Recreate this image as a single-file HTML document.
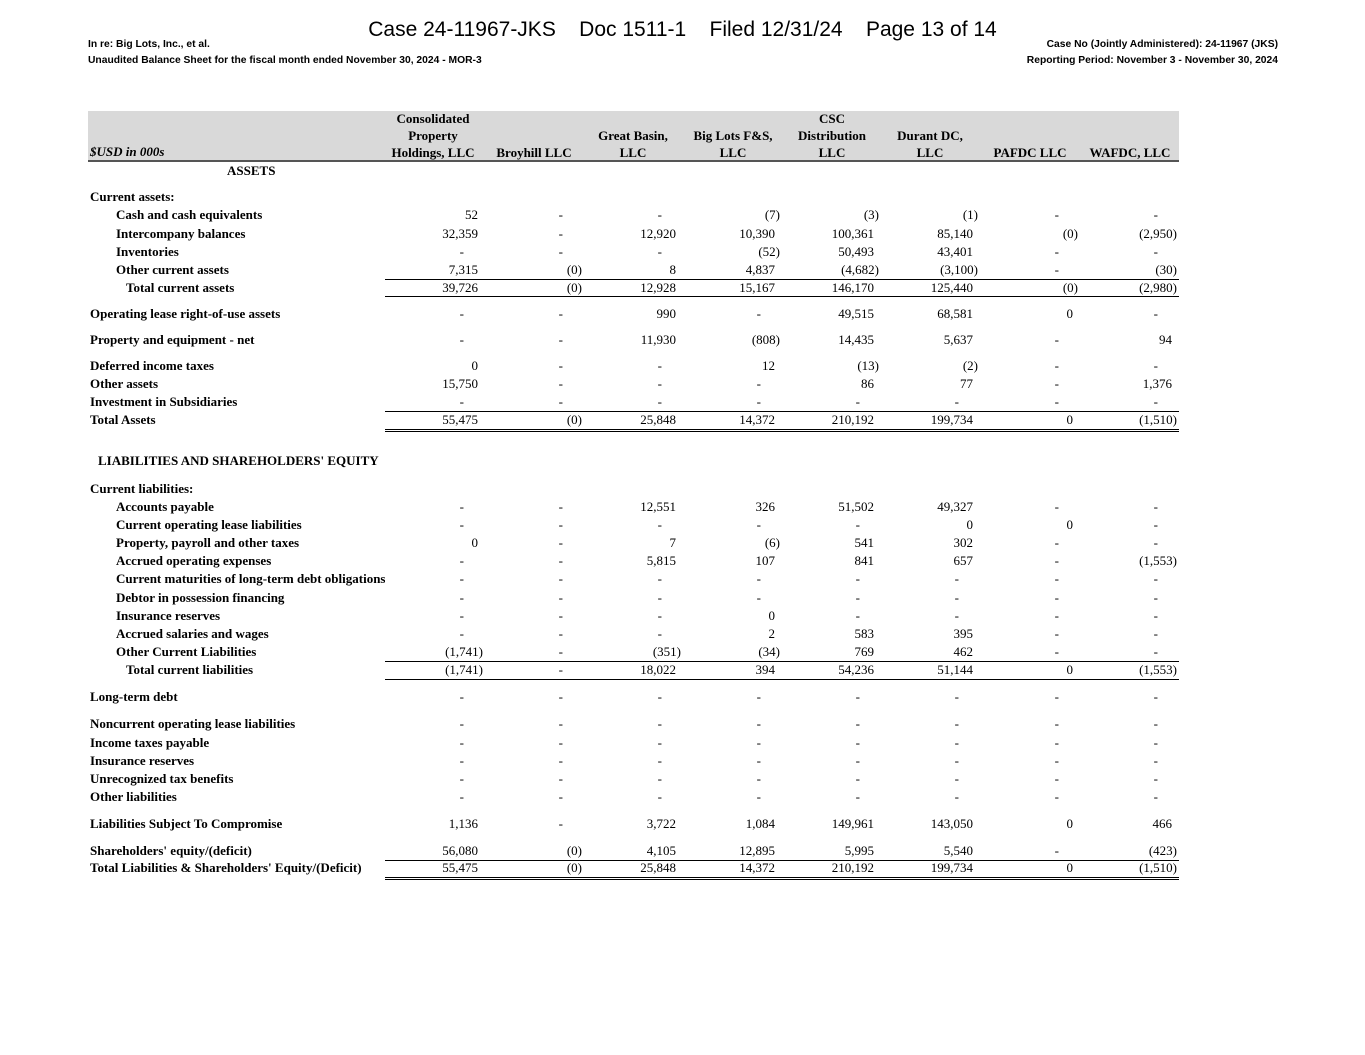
<!DOCTYPE html><html><head><meta charset="utf-8"><style>
body{margin:0;width:1365px;height:1055px;background:#fff;position:relative;font-family:"Liberation Serif",serif;color:#000;overflow:hidden}
.a{position:absolute;white-space:nowrap}
.t{position:absolute;left:0;width:1365px;text-align:center;top:18px;font:21px "Liberation Sans",sans-serif}
.s{position:absolute;font:bold 10.3px "Liberation Sans",sans-serif}
.r{position:absolute;left:0;width:1365px;height:16px;font-size:13px;line-height:16px}
.r b{position:absolute;font-weight:normal;width:100px;text-align:right}
.L{position:absolute;font-weight:bold;white-space:nowrap}
.c1{left:378px}.c2{left:477px}.c3{left:576px}.c4{left:675px}.c5{left:774px}.c6{left:873px}.c7{left:973px}.c8{left:1072px}
.r b.p{margin-left:5px}.r b.d{margin-left:-14px}
.h{position:absolute;font:bold 13px/17px "Liberation Serif",serif;text-align:center;width:110px;white-space:nowrap}
.ln{position:absolute;left:385px;width:794px;height:1px;background:#000}
</style></head><body>
<div class="t">Case 24-11967-JKS&nbsp;&nbsp;&nbsp; Doc 1511-1&nbsp;&nbsp;&nbsp; Filed 12/31/24&nbsp;&nbsp;&nbsp; Page 13 of 14</div>
<div class="s" style="left:88px;top:39px">In re: Big Lots, Inc., et al.</div>
<div class="s" style="left:88px;top:55px">Unaudited Balance Sheet for the fiscal month ended November 30, 2024 - MOR-3</div>
<div class="s" style="right:87px;top:39px">Case No (Jointly Administered): 24-11967 (JKS)</div>
<div class="s" style="right:87px;top:55px">Reporting Period: November 3 - November 30, 2024</div>
<div class="a" style="left:88px;top:111px;width:1091px;height:49px;background:#d9d9d9;border-bottom:2px solid #555"></div>
<div class="a" style="left:90px;top:144px;font:italic bold 13px 'Liberation Serif',serif">$USD in 000s</div>
<div class="h" style="left:378px;top:110px">Consolidated<br>Property<br>Holdings, LLC</div>
<div class="h" style="left:479px;top:144px">Broyhill LLC</div>
<div class="h" style="left:578px;top:127px">Great Basin,<br>LLC</div>
<div class="h" style="left:678px;top:127px">Big Lots F&amp;S,<br>LLC</div>
<div class="h" style="left:777px;top:110px">CSC<br>Distribution<br>LLC</div>
<div class="h" style="left:875px;top:127px">Durant DC,<br>LLC</div>
<div class="h" style="left:975px;top:144px">PAFDC LLC</div>
<div class="h" style="left:1075px;top:144px">WAFDC, LLC</div>

<div class="r" style="top:163px"><span class="L" style="left:227px">ASSETS</span></div>
<div class="r" style="top:189px"><span class="L" style="left:90px">Current assets:</span></div>
<div class="r" style="top:207px"><span class="L" style="left:116px">Cash and cash equivalents</span><b class="c1">52</b><b class="c2 d">-</b><b class="c3 d">-</b><b class="c4 p">(7)</b><b class="c5 p">(3)</b><b class="c6 p">(1)</b><b class="c7 d">-</b><b class="c8 d">-</b></div>
<div class="r" style="top:226px"><span class="L" style="left:116px">Intercompany balances</span><b class="c1">32,359</b><b class="c2 d">-</b><b class="c3">12,920</b><b class="c4">10,390</b><b class="c5">100,361</b><b class="c6">85,140</b><b class="c7 p">(0)</b><b class="c8 p">(2,950)</b></div>
<div class="r" style="top:244px"><span class="L" style="left:116px">Inventories</span><b class="c1 d">-</b><b class="c2 d">-</b><b class="c3 d">-</b><b class="c4 p">(52)</b><b class="c5">50,493</b><b class="c6">43,401</b><b class="c7 d">-</b><b class="c8 d">-</b></div>
<div class="r" style="top:262px"><span class="L" style="left:116px">Other current assets</span><b class="c1">7,315</b><b class="c2 p">(0)</b><b class="c3">8</b><b class="c4">4,837</b><b class="c5 p">(4,682)</b><b class="c6 p">(3,100)</b><b class="c7 d">-</b><b class="c8 p">(30)</b></div>
<div class="ln" style="top:279px"></div>
<div class="r" style="top:280px"><span class="L" style="left:126px">Total current assets</span><b class="c1">39,726</b><b class="c2 p">(0)</b><b class="c3">12,928</b><b class="c4">15,167</b><b class="c5">146,170</b><b class="c6">125,440</b><b class="c7 p">(0)</b><b class="c8 p">(2,980)</b></div>
<div class="ln" style="top:296px"></div>
<div class="r" style="top:306px"><span class="L" style="left:90px">Operating lease right-of-use assets</span><b class="c1 d">-</b><b class="c2 d">-</b><b class="c3">990</b><b class="c4 d">-</b><b class="c5">49,515</b><b class="c6">68,581</b><b class="c7">0</b><b class="c8 d">-</b></div>
<div class="r" style="top:332px"><span class="L" style="left:90px">Property and equipment - net</span><b class="c1 d">-</b><b class="c2 d">-</b><b class="c3">11,930</b><b class="c4 p">(808)</b><b class="c5">14,435</b><b class="c6">5,637</b><b class="c7 d">-</b><b class="c8">94</b></div>
<div class="r" style="top:358px"><span class="L" style="left:90px">Deferred income taxes</span><b class="c1">0</b><b class="c2 d">-</b><b class="c3 d">-</b><b class="c4">12</b><b class="c5 p">(13)</b><b class="c6 p">(2)</b><b class="c7 d">-</b><b class="c8 d">-</b></div>
<div class="r" style="top:376px"><span class="L" style="left:90px">Other assets</span><b class="c1">15,750</b><b class="c2 d">-</b><b class="c3 d">-</b><b class="c4 d">-</b><b class="c5">86</b><b class="c6">77</b><b class="c7 d">-</b><b class="c8">1,376</b></div>
<div class="r" style="top:394px"><span class="L" style="left:90px">Investment in Subsidiaries</span><b class="c1 d">-</b><b class="c2 d">-</b><b class="c3 d">-</b><b class="c4 d">-</b><b class="c5 d">-</b><b class="c6 d">-</b><b class="c7 d">-</b><b class="c8 d">-</b></div>
<div class="ln" style="top:411px"></div>
<div class="r" style="top:412px"><span class="L" style="left:90px">Total Assets</span><b class="c1">55,475</b><b class="c2 p">(0)</b><b class="c3">25,848</b><b class="c4">14,372</b><b class="c5">210,192</b><b class="c6">199,734</b><b class="c7">0</b><b class="c8 p">(1,510)</b></div>
<div class="ln" style="top:429px"></div><div class="ln" style="top:431px"></div>

<div class="r" style="top:453px"><span class="L" style="left:98px">LIABILITIES AND SHAREHOLDERS' EQUITY</span></div>
<div class="r" style="top:481px"><span class="L" style="left:90px">Current liabilities:</span></div>
<div class="r" style="top:499px"><span class="L" style="left:116px">Accounts payable</span><b class="c1 d">-</b><b class="c2 d">-</b><b class="c3">12,551</b><b class="c4">326</b><b class="c5">51,502</b><b class="c6">49,327</b><b class="c7 d">-</b><b class="c8 d">-</b></div>
<div class="r" style="top:517px"><span class="L" style="left:116px">Current operating lease liabilities</span><b class="c1 d">-</b><b class="c2 d">-</b><b class="c3 d">-</b><b class="c4 d">-</b><b class="c5 d">-</b><b class="c6">0</b><b class="c7">0</b><b class="c8 d">-</b></div>
<div class="r" style="top:535px"><span class="L" style="left:116px">Property, payroll and other taxes</span><b class="c1">0</b><b class="c2 d">-</b><b class="c3">7</b><b class="c4 p">(6)</b><b class="c5">541</b><b class="c6">302</b><b class="c7 d">-</b><b class="c8 d">-</b></div>
<div class="r" style="top:553px"><span class="L" style="left:116px">Accrued operating expenses</span><b class="c1 d">-</b><b class="c2 d">-</b><b class="c3">5,815</b><b class="c4">107</b><b class="c5">841</b><b class="c6">657</b><b class="c7 d">-</b><b class="c8 p">(1,553)</b></div>
<div class="r" style="top:571px"><span class="L" style="left:116px;width:269px;overflow:hidden">Current maturities of long-term debt obligations</span><b class="c1 d">-</b><b class="c2 d">-</b><b class="c3 d">-</b><b class="c4 d">-</b><b class="c5 d">-</b><b class="c6 d">-</b><b class="c7 d">-</b><b class="c8 d">-</b></div>
<div class="r" style="top:590px"><span class="L" style="left:116px">Debtor in possession financing</span><b class="c1 d">-</b><b class="c2 d">-</b><b class="c3 d">-</b><b class="c4 d">-</b><b class="c5 d">-</b><b class="c6 d">-</b><b class="c7 d">-</b><b class="c8 d">-</b></div>
<div class="r" style="top:608px"><span class="L" style="left:116px">Insurance reserves</span><b class="c1 d">-</b><b class="c2 d">-</b><b class="c3 d">-</b><b class="c4">0</b><b class="c5 d">-</b><b class="c6 d">-</b><b class="c7 d">-</b><b class="c8 d">-</b></div>
<div class="r" style="top:626px"><span class="L" style="left:116px">Accrued salaries and wages</span><b class="c1 d">-</b><b class="c2 d">-</b><b class="c3 d">-</b><b class="c4">2</b><b class="c5">583</b><b class="c6">395</b><b class="c7 d">-</b><b class="c8 d">-</b></div>
<div class="r" style="top:644px"><span class="L" style="left:116px">Other Current Liabilities</span><b class="c1 p">(1,741)</b><b class="c2 d">-</b><b class="c3 p">(351)</b><b class="c4 p">(34)</b><b class="c5">769</b><b class="c6">462</b><b class="c7 d">-</b><b class="c8 d">-</b></div>
<div class="ln" style="top:661px"></div>
<div class="r" style="top:662px"><span class="L" style="left:126px">Total current liabilities</span><b class="c1 p">(1,741)</b><b class="c2 d">-</b><b class="c3">18,022</b><b class="c4">394</b><b class="c5">54,236</b><b class="c6">51,144</b><b class="c7">0</b><b class="c8 p">(1,553)</b></div>
<div class="ln" style="top:679px"></div>
<div class="r" style="top:689px"><span class="L" style="left:90px">Long-term debt</span><b class="c1 d">-</b><b class="c2 d">-</b><b class="c3 d">-</b><b class="c4 d">-</b><b class="c5 d">-</b><b class="c6 d">-</b><b class="c7 d">-</b><b class="c8 d">-</b></div>
<div class="r" style="top:716px"><span class="L" style="left:90px">Noncurrent operating lease liabilities</span><b class="c1 d">-</b><b class="c2 d">-</b><b class="c3 d">-</b><b class="c4 d">-</b><b class="c5 d">-</b><b class="c6 d">-</b><b class="c7 d">-</b><b class="c8 d">-</b></div>
<div class="r" style="top:735px"><span class="L" style="left:90px">Income taxes payable</span><b class="c1 d">-</b><b class="c2 d">-</b><b class="c3 d">-</b><b class="c4 d">-</b><b class="c5 d">-</b><b class="c6 d">-</b><b class="c7 d">-</b><b class="c8 d">-</b></div>
<div class="r" style="top:753px"><span class="L" style="left:90px">Insurance reserves</span><b class="c1 d">-</b><b class="c2 d">-</b><b class="c3 d">-</b><b class="c4 d">-</b><b class="c5 d">-</b><b class="c6 d">-</b><b class="c7 d">-</b><b class="c8 d">-</b></div>
<div class="r" style="top:771px"><span class="L" style="left:90px">Unrecognized tax benefits</span><b class="c1 d">-</b><b class="c2 d">-</b><b class="c3 d">-</b><b class="c4 d">-</b><b class="c5 d">-</b><b class="c6 d">-</b><b class="c7 d">-</b><b class="c8 d">-</b></div>
<div class="r" style="top:789px"><span class="L" style="left:90px">Other liabilities</span><b class="c1 d">-</b><b class="c2 d">-</b><b class="c3 d">-</b><b class="c4 d">-</b><b class="c5 d">-</b><b class="c6 d">-</b><b class="c7 d">-</b><b class="c8 d">-</b></div>
<div class="r" style="top:816px"><span class="L" style="left:90px">Liabilities Subject To Compromise</span><b class="c1">1,136</b><b class="c2 d">-</b><b class="c3">3,722</b><b class="c4">1,084</b><b class="c5">149,961</b><b class="c6">143,050</b><b class="c7">0</b><b class="c8">466</b></div>
<div class="r" style="top:843px"><span class="L" style="left:90px">Shareholders' equity/(deficit)</span><b class="c1">56,080</b><b class="c2 p">(0)</b><b class="c3">4,105</b><b class="c4">12,895</b><b class="c5">5,995</b><b class="c6">5,540</b><b class="c7 d">-</b><b class="c8 p">(423)</b></div>
<div class="ln" style="top:860px"></div>
<div class="r" style="top:860px"><span class="L" style="left:90px">Total Liabilities &amp; Shareholders' Equity/(Deficit)</span><b class="c1">55,475</b><b class="c2 p">(0)</b><b class="c3">25,848</b><b class="c4">14,372</b><b class="c5">210,192</b><b class="c6">199,734</b><b class="c7">0</b><b class="c8 p">(1,510)</b></div>
<div class="ln" style="top:877px"></div><div class="ln" style="top:879px"></div>
</body></html>
